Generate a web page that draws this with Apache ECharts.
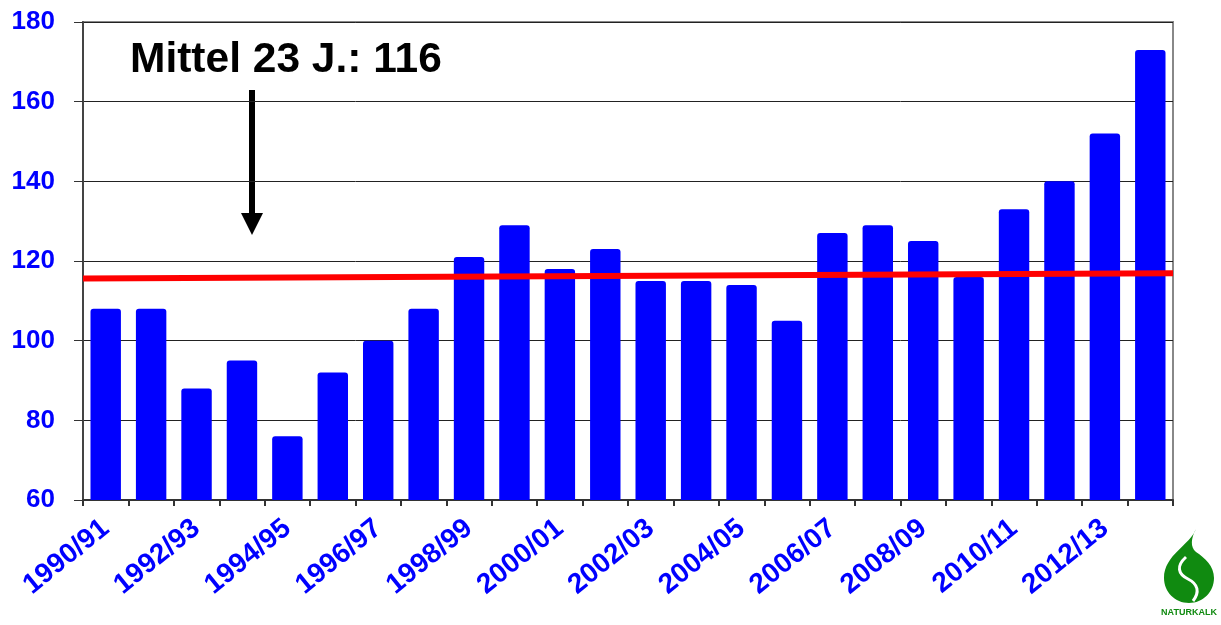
<!DOCTYPE html>
<html>
<head>
<meta charset="utf-8">
<script src="https://cdn.jsdelivr.net/npm/echarts@6/dist/echarts.min.js"></script>
<style>
  html, body { margin: 0; padding: 0; background: #fff; }
  #chart { width: 1221px; height: 625px; }
</style>
</head>
<body>
<div id="chart"></div>
<script>
  // seasons 1990/91 .. 2013/14
  const seasons = [
    '1990/91', '1991/92', '1992/93', '1993/94', '1994/95', '1995/96',
    '1996/97', '1997/98', '1998/99', '1999/00', '2000/01', '2001/02',
    '2002/03', '2003/04', '2004/05', '2005/06', '2006/07', '2007/08',
    '2008/09', '2009/10', '2010/11', '2011/12', '2012/13', '2013/14'
  ];
  const values = [
    108, 108, 88, 95, 76, 92, 100, 108, 121, 129, 118, 123,
    115, 115, 114, 105, 127, 129, 125, 116, 133, 140, 152, 173
  ];
  // trend line, start and end of the plot width
  const trendX = [0, 1];
  const trendY = [115.6, 116.9];
  const yTicks = { min: 60, max: 180, interval: 20 };
  const note = 'Mittel 23 J.: 116';

  // little logo as inline svg
  const logoSvg =
    '<svg xmlns="http://www.w3.org/2000/svg" width="60" height="90" viewBox="0 0 60 90">' +
    '<path d="M36 1 C30 17 4 27 4 50 C4 64 15 75 29 75 C43 75 54 64 54 50 C54 38 45 30 36 24 C30 19 31 10 36 1 Z" fill="#108A10"/>' +
    '<path d="M26 29 C16 38 18 46 28 51 C38 56 40 64 33 73" fill="none" stroke="#fff" stroke-width="3"/>' +
    '<text x="29" y="87" text-anchor="middle" font-family="Liberation Sans, Arial" font-weight="bold" font-size="9" fill="#108A10">NATURKALK</text>' +
    '</svg>';

  const chart = echarts.init(document.getElementById('chart'));

  const option = {
    animation: false,
    grid: {
      left: 83, right: 48, top: 22, bottom: 125,
      show: true, borderColor: '#888', borderWidth: 2
    },
    xAxis: [{
      type: 'category',
      data: seasons,
      axisLine: { lineStyle: { color: '#333', width: 2 } },
      axisTick: { show: true, length: 6, interval: 0, lineStyle: { color: '#333', width: 2 } },
      axisLabel: {
        interval: 1,
        rotate: 39,
        color: '#0000FF',
        fontFamily: 'Liberation Sans, Arial, sans-serif',
        fontWeight: 'bold',
        fontSize: 28,
        margin: 25
      }
    }, {
      type: 'value',
      min: 0, max: 1,
      show: false
    }],
    yAxis: {
      type: 'value',
      min: yTicks.min, max: yTicks.max, interval: yTicks.interval,
      axisLine: { show: true, lineStyle: { color: '#444', width: 2 } },
      axisTick: { show: true, length: 9, lineStyle: { color: '#333', width: 1 } },
      splitLine: { show: true, lineStyle: { color: '#222', width: 1 } },
      axisLabel: {
        color: '#0000FF',
        fontFamily: 'Liberation Sans, Arial, sans-serif',
        fontWeight: 'bold',
        fontSize: 26,
        margin: 28
      }
    },
    series: [{
      type: 'bar',
      data: values,
      barCategoryGap: '33%',
      itemStyle: { color: '#0000FF', borderRadius: [3, 3, 0, 0] },
      z: 2
    }, {
      type: 'line',
      xAxisIndex: 1,
      data: trendX.map((x, i) => [x, trendY[i]]),
      symbol: 'none',
      lineStyle: { color: '#FF0000', width: 6 },
      z: 3
    }],
    graphic: [{
      type: 'text',
      x: 130, y: 39,
      style: {
        text: note,
        font: 'bold 42.5px "Liberation Sans", Arial, sans-serif',
        fill: '#000'
      }
    }, {
      type: 'rect',
      shape: { x: 249, y: 90, width: 6, height: 125 },
      style: { fill: '#000' }
    }, {
      type: 'polygon',
      shape: { points: [[241, 213], [263, 213], [252, 235]] },
      style: { fill: '#000' }
    }, {
      type: 'image',
      x: 1160, y: 528,
      style: {
        image: 'data:image/svg+xml;charset=utf-8,' + encodeURIComponent(logoSvg),
        width: 60, height: 90
      }
    }]
  };

  chart.setOption(option);
</script>
</body>
</html>
